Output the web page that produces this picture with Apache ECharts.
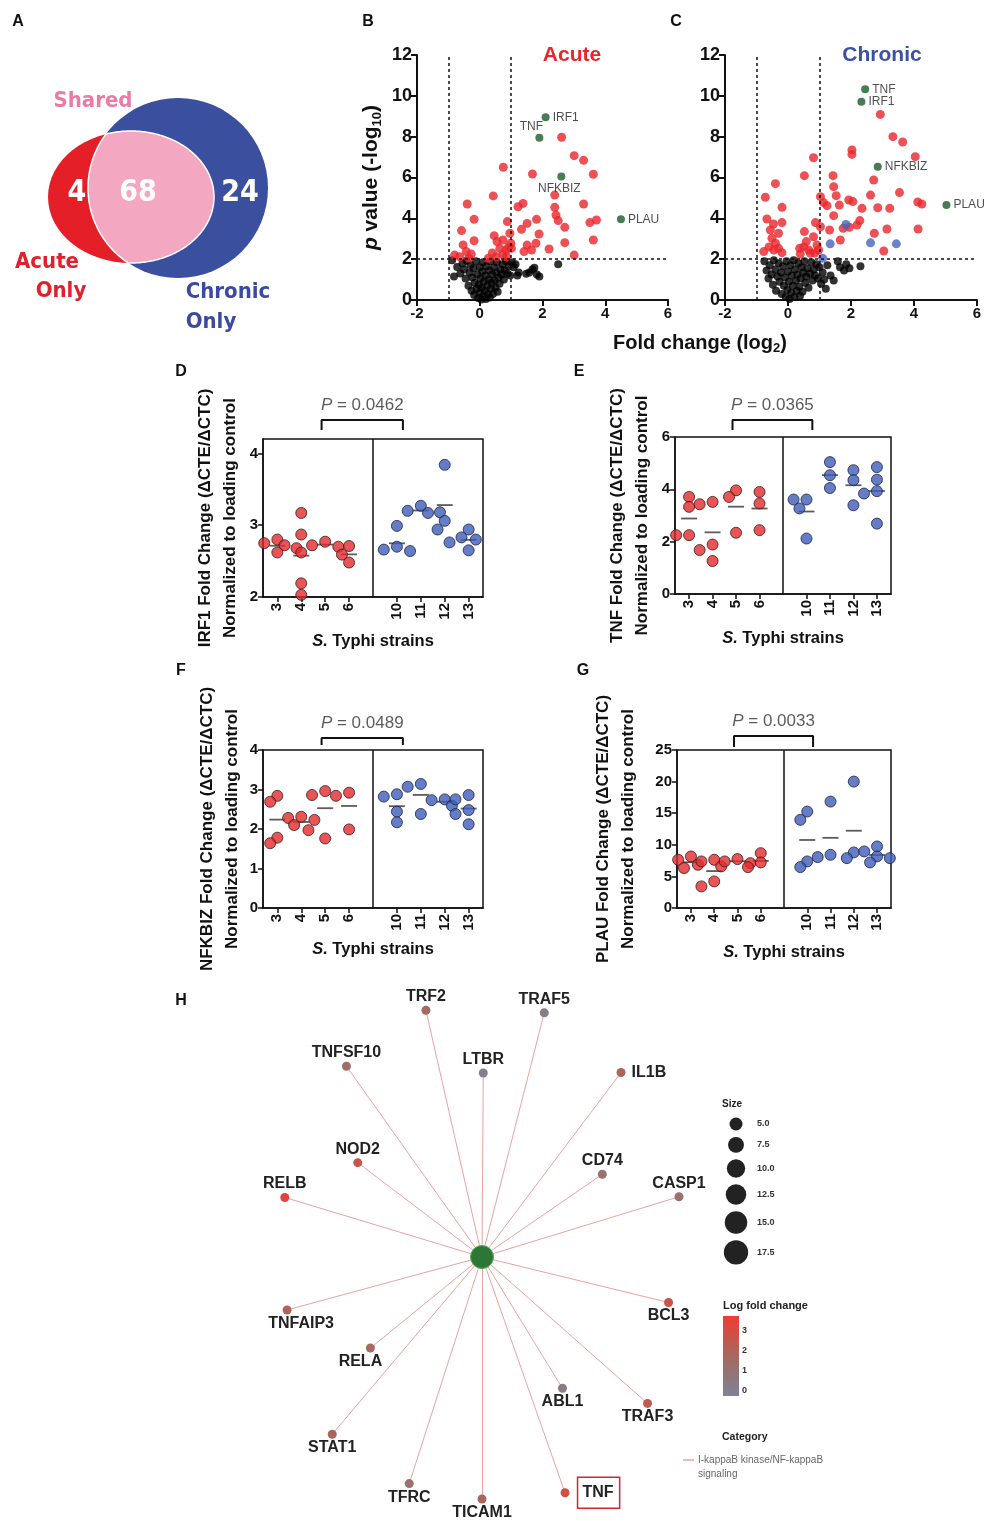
<!DOCTYPE html>
<html>
<head>
<meta charset="utf-8">
<title>S. Typhi figure</title>
<script src="https://cdn.jsdelivr.net/npm/echarts@6.0.0/dist/echarts.min.js"></script>
<style>
  html, body { margin: 0; padding: 0; background: #fff; }
  #chart { width: 994px; height: 1532px; }
</style>
</head>
<body>
<div id="chart"></div>
<script>
// ---------- A: Venn counts ----------
const vennCounts = [4, 68, 24]; // acute only, shared, chronic only

// ---------- B: acute volcano (log2 FC, -log10 p) ----------
const acuteNs = [
  [-0.88,1.95],[-0.82,1.15],[-0.72,1.62],[-0.62,1.3],[-0.55,1.8],[-0.5,1.5],[-0.45,1.05],[-0.42,1.92],
  [-0.36,0.7],[-0.32,1.35],[-0.3,1.72],[-0.26,0.45],[-0.24,1.1],[-0.2,1.55],[-0.18,0.25],[-0.16,0.85],
  [-0.12,1.9],[-0.1,0.55],[-0.08,1.25],[-0.05,0.1],[-0.03,0.75],[0,1.6],[0,0.35],[0.02,1.05],[0.05,0.02],
  [0.06,0.6],[0.08,1.4],[0.1,1.85],[0.12,0.2],[0.13,0.9],[0.16,0.45],[0.18,1.2],[0.2,0.05],[0.21,1.65],
  [0.24,0.7],[0.26,0.3],[0.28,1.0],[0.3,1.45],[0.32,0.12],[0.34,1.9],[0.36,0.55],[0.38,0.85],[0.4,1.25],
  [0.42,0.3],[0.45,1.6],[0.47,0.95],[0.5,0.6],[0.52,1.35],[0.55,1.85],[0.57,0.4],[0.6,1.1],[0.63,0.8],
  [0.66,1.5],[0.7,1.25],[0.73,1.75],[0.77,1.0],[0.8,1.45],[0.84,1.9],[0.88,1.3],[0.93,1.65],[0.97,1.2],
  [1.02,1.85],[1.08,1.6],[1.14,1.75],[1.2,1.2],[1.24,1.35],[1.48,1.28],[1.58,1.35],[1.68,1.5],[1.74,1.58],
  [1.82,1.25],[1.9,1.15],[2.5,1.75]
];
const acuteSig = [
  [0.75,6.5],[0.43,5.1],[-0.4,4.7],[-0.18,3.95],[-0.58,3.4],[-0.53,2.7],[-0.18,2.9],[-0.8,2.2],[-0.43,2.37],
  [-0.27,2.25],[-0.64,2.12],[-0.35,2.05],[0.46,3.15],[0.64,2.53],[0.55,2.86],[0.74,2.94],[0.88,3.84],[0.96,3.27],
  [0.99,2.78],[0.85,2.45],[1.01,2.53],[0.27,2.04],[0.4,2.3],[0.53,2.12],[0.74,2.25],[0.85,2.12],[0.92,2.6],
  [1.22,4.57],[1.38,4.73],[1.33,3.46],[1.51,3.75],[1.68,6.17],[1.81,3.95],[1.89,3.23],[1.79,2.78],[1.51,2.69],
  [1.41,2.37],[1.65,2.45],[2.21,2.5],[2.39,5.14],[2.39,4.54],[2.43,4.16],[2.5,3.89],[2.71,3.56],[2.71,2.81],
  [2.61,7.97],[3.01,7.07],[3.31,6.84],[3.31,4.7],[3.62,6.16],[3.51,3.79],[3.72,3.92],[3.62,2.94],[3.01,2.2]
];
const acuteGenes = ['IRF1', 'TNF', 'NFKBIZ', 'PLAU'];
const acuteGeneXY = [[2.1,8.95],[1.9,7.95],[2.6,6.05],[4.5,3.95]];

// ---------- C: chronic volcano ----------
const chronicNs = [
  [-0.75,1.9],[-0.68,1.45],[-0.62,1.05],[-0.58,1.7],[-0.52,1.25],[-0.48,0.75],[-0.45,1.95],[-0.4,1.5],[-0.38,0.45],
  [-0.33,1.15],[-0.3,1.8],[-0.27,0.9],[-0.22,1.35],[-0.2,0.3],[-0.16,1.65],[-0.13,0.7],[-0.1,1.1],[-0.07,0.15],
  [-0.05,1.9],[-0.02,0.5],[0,1.4],[0.03,0.9],[0.05,0.05],[0.08,1.7],[0.1,0.35],[0.12,1.2],[0.15,0.7],[0.18,1.95],
  [0.2,0.15],[0.22,1.5],[0.25,0.95],[0.28,0.45],[0.3,1.25],[0.33,1.8],[0.36,0.65],[0.38,0.2],[0.4,1.05],[0.43,1.6],
  [0.46,0.4],[0.48,1.35],[0.52,1.9],[0.55,0.85],[0.58,1.15],[0.62,1.55],[0.65,0.6],[0.7,1.3],[0.74,1.85],[0.78,0.95],
  [0.82,1.5],[0.86,1.2],[0.9,1.75],[0.95,1.05],[1.0,1.6],[1.05,0.8],[1.1,1.35],[1.15,1.0],[1.2,0.55],[1.25,1.7],
  [1.35,1.2],[1.45,0.95],[1.58,1.9],[1.65,1.6],[1.78,1.45],[1.85,1.75],[1.95,1.55],[2.3,1.65]
];
const chronicSig = [
  [0.81,6.97],[0.52,6.09],[-0.4,5.7],[-0.72,5.03],[-0.67,3.97],[-0.19,4.54],[-0.56,3.43],[-0.46,3.72],[-0.19,3.79],
  [-0.3,3.27],[-0.51,3.02],[-0.4,2.78],[-0.77,2.37],[-0.3,2.53],[-0.19,2.32],[-0.45,2.45],[-0.6,2.6],[0.52,3.35],
  [0.58,2.86],[0.37,2.53],[0.66,2.45],[0.92,2.69],[0.81,3.1],[0.87,3.79],[1.03,3.59],[0.97,2.45],[0.39,2.25],
  [0.71,2.29],[0.5,2.6],[0.85,2.3],[1.03,5.06],[1.13,4.77],[1.24,4.62],[1.43,6.09],[1.45,5.55],[1.53,5.11],
  [1.63,4.65],[1.45,4.13],[1.32,3.43],[1.66,2.94],[2.03,7.35],[2.03,7.13],[1.93,4.9],[2.06,4.82],[1.75,3.51],
  [1.95,3.56],[2.19,3.67],[2.28,3.89],[2.35,4.49],[2.62,5.14],[2.72,5.88],[2.85,4.52],[2.74,3.27],[3.14,3.48],
  [3.23,4.49],[3.54,5.26],[3.33,8.0],[3.64,7.74],[2.93,9.09],[4.04,7.02],[4.12,4.8],[4.25,4.7],[4.13,3.48],[3.04,2.4]
];
const chronicOnly = [[1.34,2.75],[1.84,3.7],[2.62,2.8],[3.44,2.75],[1.1,2.05]];
const chronicGenes = ['TNF', 'IRF1', 'NFKBIZ', 'PLAU'];
const chronicGeneXY = [[2.45,10.32],[2.33,9.71],[2.85,6.53],[5.03,4.65]];

// ---------- D-G: qPCR fold change per strain ----------
const strains = ['3', '4', '5', '6', '10', '11', '12', '13']; // 3-6 acute, 10-13 chronic
const irf1 = [[2.80,2.75,2.72,2.68,2.62],[3.17,2.87,2.62,2.19,2.03],[2.77,2.72,2.70],[2.71,2.59,2.48],
              [2.99,2.70,2.66,2.64],[3.27,3.20,3.17,3.18],[3.84,3.06,2.94],[2.94,2.83,2.80,2.76,2.65]];
const tnf = [[3.71,3.33,2.25,2.25],[3.52,3.43,1.89,1.68,1.26],[3.96,3.71,2.34],[3.9,3.46,2.44],
             [3.61,3.61,3.27,2.12],[5.04,4.54,4.05],[4.73,4.35,3.39],[4.85,4.37,3.93,3.84,2.69]];
const nfkbiz = [[2.84,2.69,1.78,1.64],[2.31,2.28,2.23,2.1,1.97],[2.96,2.86,1.76],[2.92,2.84,1.99],
                [2.88,2.82,2.44,2.17],[3.14,3.07,2.38],[2.75,2.73,2.59],[2.86,2.75,2.48,2.38,2.12]];
const plau = [[8.16,7.63,6.84,6.32],[7.63,7.37,6.58,4.21,3.42],[7.74,7.37,7.1],[8.68,7.21,6.47],
              [15.26,13.95,7.37,6.47],[16.84,8.42,8.05],[20.0,8.79,7.89],[9.74,8.95,8.16,7.89,7.21]];
const pValues = ['0.0462', '0.0365', '0.0489', '0.0033'];

// ---------- H: gene-concept network ----------
const netGenes = ['TRF2','TRAF5','TNFSF10','LTBR','IL1B','NOD2','CD74','RELB','CASP1',
                  'TNFAIP3','BCL3','RELA','ABL1','TRAF3','STAT1','TFRC','TICAM1','TNF'];
const netAngle = [102.8,75.7,125.4,89.6,53.0,142.8,34.5,163.2,17.0,195.2,346.3,219.2,301.5,318.5,229.8,252.2,270,289.4];
const netDist = [253,252,234,184,231,156,146,206,206,202,192,144,154,221,232,238,242,250];
const netLfc = [1.5,0.2,1.3,0.1,1.9,2.6,1.1,3.4,1.2,2.0,2.7,1.6,0.1,2.4,1.8,1.2,1.8,3.0];
const sizeLegend = [5.0, 7.5, 10.0, 12.5, 15.0, 17.5];
const lfcTicks = [0, 1, 2, 3];
const category = 'I-kappaB kinase/NF-kappaB signaling';

// ================================================================
const FONT = "'Liberation Sans', Arial, sans-serif";
const NARROW = "'Liberation Sans Narrow', 'DejaVu Sans Condensed', 'Liberation Sans', sans-serif";
const INK = '#111';
const RED = '#e8262b';
const BLUE = '#3b4fa6';
const LFC_COLORS = ['#7d8394', '#a5695f', '#f03c32'];
const LFC_RANGE = [-0.3, 3.75];

const chart = echarts.init(document.getElementById('chart'));
const grids = [], xAxes = [], yAxes = [], series = [], graphic = [];

function text(x, y, str, style) {
  graphic.push({
    type: 'text', x: x, y: y, silent: true, z: 10,
    style: Object.assign({
      text: str, fill: INK, fontFamily: FONT, fontSize: 15, fontWeight: 'bold',
      align: 'center', verticalAlign: 'middle'
    }, style || {})
  });
}

// panel letters
[['A', 18, 22], ['B', 368, 22], ['C', 676, 22], ['D', 181, 372], ['E', 579, 372],
 ['F', 181, 671], ['G', 583, 671], ['H', 181, 1001]].forEach(function (l) {
  text(l[1], l[2], l[0], { fontSize: 16 });
});

// ---------- A: Venn ----------
const ell = { cx: 131, cy: 197, rx: 83, ry: 66 };
const circ = { cx: 178, cy: 188, r: 90 };
graphic.push({ type: 'ellipse', silent: true, shape: ell, style: { fill: '#e41f27' } });
graphic.push({ type: 'circle', silent: true, shape: circ, style: { fill: '#3a4f9e' } });
const lens = [];
for (let a = 0; a < 360; a += 1) {
  const t = a * Math.PI / 180;
  const ex = ell.cx + ell.rx * Math.cos(t), ey = ell.cy + ell.ry * Math.sin(t);
  if (Math.hypot(ex - circ.cx, ey - circ.cy) <= circ.r) lens.push([ex, ey]);
  const qx = circ.cx + circ.r * Math.cos(t), qy = circ.cy + circ.r * Math.sin(t);
  if (Math.pow((qx - ell.cx) / ell.rx, 2) + Math.pow((qy - ell.cy) / ell.ry, 2) <= 1) lens.push([qx, qy]);
}
const lmx = lens.reduce((s, p) => s + p[0], 0) / lens.length;
const lmy = lens.reduce((s, p) => s + p[1], 0) / lens.length;
lens.sort((p, q) => Math.atan2(p[1] - lmy, p[0] - lmx) - Math.atan2(q[1] - lmy, q[0] - lmx));
graphic.push({ type: 'polygon', silent: true, shape: { points: lens },
  style: { fill: '#f4a7c1', stroke: '#fff', lineWidth: 1.5 } });
text(77, 193, String(vennCounts[0]), { fill: '#fff', fontSize: 30, fontFamily: NARROW });
text(138, 193, String(vennCounts[1]), { fill: '#fff', fontSize: 30, fontFamily: NARROW });
text(240, 193, String(vennCounts[2]), { fill: '#fff', fontSize: 30, fontFamily: NARROW });
text(93, 101, 'Shared', { fill: '#ea7ba3', fontSize: 22, fontFamily: NARROW });
text(47, 262, 'Acute', { fill: '#e0202a', fontSize: 22, fontFamily: NARROW });
text(61, 291, 'Only', { fill: '#e0202a', fontSize: 22, fontFamily: NARROW });
text(228, 292, 'Chronic', { fill: '#3b4aa0', fontSize: 22, fontFamily: NARROW });
text(211, 322, 'Only', { fill: '#3b4aa0', fontSize: 22, fontFamily: NARROW });

// ---------- B, C: volcano plots ----------
const axLine = { color: INK, width: 2 };
function volcano(gi, rect, ns, sig, only, genes, geneXY, labelPos, withName) {
  grids.push(Object.assign({ containLabel: false, outerBoundsMode: 'none' }, rect));
  xAxes.push({
    gridIndex: gi, type: 'value', min: -2, max: 6, interval: 2, splitLine: { show: false },
    axisLine: { show: true, onZero: false, lineStyle: axLine },
    axisTick: { show: true, length: 6, lineStyle: axLine },
    axisLabel: { fontSize: 15, fontWeight: 'bold', color: INK, margin: 6 }
  });
  yAxes.push({
    gridIndex: gi, type: 'value', min: 0, max: 12, interval: 2, splitLine: { show: false },
    axisLine: { show: true, onZero: false, lineStyle: axLine },
    axisTick: { show: true, length: 6, lineStyle: axLine },
    axisLabel: { fontSize: 18, fontWeight: 'bold', color: INK, margin: 5 },
    name: withName ? '{i|p} value (-log{s|10})' : '',
    nameLocation: 'middle', nameGap: 33,
    nameTextStyle: {
      fontSize: 21, fontWeight: 'bold', color: INK, lineHeight: 26,
      rich: {
        i: { fontStyle: 'italic', fontWeight: 'bold', fontSize: 21, color: INK, lineHeight: 26 },
        s: { fontSize: 13, fontWeight: 'bold', color: INK, lineHeight: 13, verticalAlign: 'bottom' }
      }
    }
  });
  series.push({
    type: 'scatter', xAxisIndex: gi, yAxisIndex: gi, data: ns, symbolSize: 8, silent: true,
    itemStyle: { color: '#000' },
    markLine: {
      silent: true, symbol: 'none', label: { show: false },
      lineStyle: { color: INK, type: [3, 3], width: 1.5 },
      data: [{ xAxis: -1 }, { xAxis: 1 }, { yAxis: 2 }]
    }
  });
  series.push({ type: 'scatter', xAxisIndex: gi, yAxisIndex: gi, data: sig, symbolSize: 9,
    silent: true, itemStyle: { color: RED } });
  if (only) {
    series.push({ type: 'scatter', xAxisIndex: gi, yAxisIndex: gi, data: only, symbolSize: 9,
      silent: true, itemStyle: { color: '#4a63bb' } });
  }
  series.push({
    type: 'scatter', xAxisIndex: gi, yAxisIndex: gi, symbolSize: 8, silent: true, z: 5,
    itemStyle: { color: '#1c5a29' },
    label: { show: true, formatter: '{b}', fontSize: 12, color: '#222', distance: 3 },
    data: genes.map(function (g, i) {
      return { name: g, value: geneXY[i], label: labelPos[i] };
    })
  });
}
volcano(0, { left: 417, top: 55, width: 251, height: 245 }, acuteNs, acuteSig, null,
  acuteGenes, acuteGeneXY,
  [{ position: 'right' }, { position: 'top', offset: [-8, 2] }, { position: 'bottom', offset: [-2, -1] }, { position: 'right' }],
  true);
volcano(1, { left: 725, top: 55, width: 252, height: 245 }, chronicNs, chronicSig, chronicOnly,
  chronicGenes, chronicGeneXY,
  [{ position: 'right' }, { position: 'right' }, { position: 'right' }, { position: 'right' }],
  false);
text(572, 55, 'Acute', { fill: RED, fontSize: 21 });
text(882, 55, 'Chronic', { fill: BLUE, fontSize: 21 });
text(700, 343, '{a|Fold change (log}{s|2}{a|)}', {
  rich: {
    a: { fontSize: 20, fontWeight: 'bold', fill: INK, fontFamily: FONT, lineHeight: 24 },
    s: { fontSize: 13, fontWeight: 'bold', fill: INK, fontFamily: FONT, lineHeight: 13, verticalAlign: 'bottom' }
  }
});

// ---------- D-G: dot plots ----------
const slotPos = strains.map(function (s, i) { return i < 4 ? i + 1 : i + 2; });
function swarm(vals, pxX, pxY, d) {
  const placed = [];
  const steps = [0, -0.3, 0.3, -0.55, 0.55, -0.8, 0.8];
  return vals.map(function (v) {
    let off = steps[steps.length - 1];
    for (const s of steps) {
      if (placed.every(p => Math.hypot((p[0] - s) * pxX, (p[1] - v) * pxY) >= d)) { off = s; break; }
    }
    placed.push([off, v]);
    return off;
  });
}
const dotPanels = [
  { gene: 'IRF1', vals: irf1, p: pValues[0], rect: { left: 263, top: 439, width: 220, height: 158 },
    min: 2, max: 4.2, ticks: [2, 3, 4], yGap: 20, xGap: 36, brTop: 19, brLeg: 9 },
  { gene: 'TNF', vals: tnf, p: pValues[1], rect: { left: 675, top: 437, width: 216, height: 157 },
    min: 0, max: 6, ticks: [0, 2, 4, 6], yGap: 20, xGap: 36, brTop: 17, brLeg: 7 },
  { gene: 'NFKBIZ', vals: nfkbiz, p: pValues[2], rect: { left: 263, top: 750, width: 220, height: 158 },
    min: 0, max: 4, ticks: [0, 1, 2, 3, 4], yGap: 18, xGap: 33, brTop: 12, brLeg: 5 },
  { gene: 'PLAU', vals: plau, p: pValues[3], rect: { left: 677, top: 750, width: 214, height: 158 },
    min: 0, max: 25, ticks: [0, 5, 10, 15, 20, 25], yGap: 36, xGap: 36, brTop: 14, brLeg: 3 }
];
const thin = { color: INK, width: 1.5 };
dotPanels.forEach(function (p, k) {
  const gi = 2 + k;
  grids.push(Object.assign({ containLabel: false, outerBoundsMode: 'none', show: true,
    borderColor: INK, borderWidth: 1.5, backgroundColor: 'transparent' }, p.rect));
  xAxes.push({
    gridIndex: gi, type: 'value', min: 0.4, max: 9.6, splitLine: { show: false },
    axisLine: { show: true, onZero: false, lineStyle: thin },
    axisTick: { show: true, customValues: slotPos, length: 5, lineStyle: thin },
    axisLabel: { customValues: slotPos, rotate: 90, margin: 6, fontSize: 15, fontWeight: 'bold', color: INK,
      formatter: function (v) { return strains[slotPos.indexOf(v)] || ''; } },
    name: '{i|S.} Typhi strains', nameLocation: 'middle', nameGap: p.xGap,
    nameTextStyle: { fontSize: 16.5, fontWeight: 'bold', color: INK,
      rich: { i: { fontStyle: 'italic', fontSize: 16.5, fontWeight: 'bold', color: INK } } }
  });
  yAxes.push({
    gridIndex: gi, type: 'value', min: p.min, max: p.max, splitLine: { show: false },
    axisLine: { show: true, onZero: false, lineStyle: thin },
    axisTick: { show: true, customValues: p.ticks, length: 5, lineStyle: thin },
    axisLabel: { customValues: p.ticks, fontSize: 15, fontWeight: 'bold', color: INK, margin: 5 },
    name: p.gene + ' Fold Change (\u0394CTE/\u0394CTC)\nNormalized to loading control',
    nameLocation: 'middle', nameGap: p.yGap,
    nameTextStyle: { fontSize: 17, fontWeight: 'bold', color: INK, lineHeight: 25 }
  });
  const pxX = p.rect.width / 9.2, pxY = p.rect.height / (p.max - p.min);
  const acutePts = [], chronicPts = [], means = [];
  p.vals.forEach(function (vals, i) {
    const offs = swarm(vals, pxX, pxY, 9);
    const target = i < 4 ? acutePts : chronicPts;
    vals.forEach(function (v, j) { target.push([slotPos[i] + offs[j], v]); });
    means.push([slotPos[i], vals.reduce((s, v) => s + v, 0) / vals.length]);
  });
  series.push({
    type: 'scatter', xAxisIndex: gi, yAxisIndex: gi, data: means, silent: true, z: 2,
    symbol: 'rect', symbolSize: [16, 1.8], itemStyle: { color: '#333' },
    markLine: { silent: true, symbol: 'none', label: { show: false },
      lineStyle: { color: INK, type: 'solid', width: 1.5 }, data: [{ xAxis: 5 }] }
  });
  series.push({ type: 'scatter', xAxisIndex: gi, yAxisIndex: gi, data: acutePts, silent: true, z: 3,
    symbolSize: 11, itemStyle: { color: '#e32b2d', borderColor: '#3a1c1c', borderWidth: 1 } });
  series.push({ type: 'scatter', xAxisIndex: gi, yAxisIndex: gi, data: chronicPts, silent: true, z: 3,
    symbolSize: 11, itemStyle: { color: '#3f5cb8', borderColor: '#1c2346', borderWidth: 1 } });
  // significance bracket between acute and chronic groups
  const yr = (p.max - p.min) / p.rect.height;
  const yTop = p.max + p.brTop * yr, yLeg = p.max + p.brLeg * yr;
  series.push({ type: 'line', xAxisIndex: gi, yAxisIndex: gi, clip: false, silent: true, symbol: 'none',
    lineStyle: { color: INK, width: 2 }, data: [[2.85, yLeg], [2.85, yTop], [6.25, yTop], [6.25, yLeg]] });
  series.push({ type: 'scatter', xAxisIndex: gi, yAxisIndex: gi, clip: false, silent: true,
    symbolSize: 1, itemStyle: { color: 'rgba(0,0,0,0)' }, data: [[4.55, yTop]],
    label: { show: true, position: 'top', distance: 6, formatter: '{i|P} = ' + p.p,
      fontSize: 17, color: '#333', rich: { i: { fontStyle: 'italic', fontSize: 17, color: '#333' } } } });
});

// ---------- H: network ----------
function lfcColor(v) {
  const t = Math.max(0, Math.min(1, (v - LFC_RANGE[0]) / (LFC_RANGE[1] - LFC_RANGE[0])));
  return echarts.color.lerp(t, LFC_COLORS);
}
const labelPlace = {
  IL1B: { position: 'right', distance: 6 },
  TNF: { position: 'right', distance: 8, borderColor: '#d3262c', borderWidth: 1.5, padding: [9, 6, 6, 5] },
  TNFAIP3: { position: 'bottom', offset: [14, 0] }, RELA: { position: 'bottom', offset: [-10, 0] },
  BCL3: { position: 'bottom' }, ABL1: { position: 'bottom' }, TRAF3: { position: 'bottom' },
  STAT1: { position: 'bottom' }, TFRC: { position: 'bottom' }, TICAM1: { position: 'bottom' }
};
const nodes = [{ name: category, value: [0, 0], symbolSize: 23, label: { show: false },
  itemStyle: { color: '#2b7735', borderColor: '#5fae62', borderWidth: 1 } }];
netGenes.forEach(function (g, i) {
  nodes.push({ name: g, value: [netDist[i], netAngle[i]],
    itemStyle: { color: lfcColor(netLfc[i]) },
    label: Object.assign({ position: 'top' }, labelPlace[g] || {}) });
});
series.push({
  type: 'graph', coordinateSystem: 'polar', polarIndex: 0, layout: 'none', silent: true,
  symbol: 'circle', symbolSize: 9, data: nodes,
  links: netGenes.map(g => ({ source: category, target: g })),
  lineStyle: { color: '#e9a39e', width: 1, opacity: 1, curveness: 0 },
  label: { show: true, fontSize: 16, fontWeight: 'bold', color: '#222', distance: 1 },
  emphasis: { disabled: true }
});

// legends for H
text(722, 1104, 'Size', { fontSize: 10, align: 'left', fill: '#222' });
let sy = 1124, prevR = 0;
sizeLegend.forEach(function (v, i) {
  const r = 2.9 * Math.sqrt(v);
  if (i > 0) sy += prevR + r + 6.5;
  graphic.push({ type: 'circle', silent: true, shape: { cx: 736, cy: sy, r: r }, style: { fill: '#222' } });
  text(757, sy, v.toFixed(1), { fontSize: 9, align: 'left', fill: '#333' });
  prevR = r;
});
const bar = { x: 723, top: 1316, w: 16, h: 80 };
graphic.push({ type: 'rect', silent: true, shape: { x: bar.x, y: bar.top, width: bar.w, height: bar.h },
  style: { fill: { type: 'linear', x: 0, y: 0, x2: 0, y2: 1,
    colorStops: [{ offset: 0, color: LFC_COLORS[2] }, { offset: 0.5, color: LFC_COLORS[1] },
                 { offset: 1, color: LFC_COLORS[0] }] } } });
text(723, 1306, 'Log fold change', { fontSize: 11, align: 'left', fill: '#222' });
lfcTicks.forEach(function (v) {
  const y = bar.top + (LFC_RANGE[1] - v) / (LFC_RANGE[1] - LFC_RANGE[0]) * bar.h;
  text(742, y, String(v), { fontSize: 9, align: 'left', fill: '#333' });
});
text(722, 1437, 'Category', { fontSize: 10.5, align: 'left', fill: '#222' });
graphic.push({ type: 'line', silent: true, shape: { x1: 683, y1: 1460, x2: 694, y2: 1460 },
  style: { stroke: '#e9a39e', lineWidth: 1.5 } });
text(698, 1460, 'I-kappaB kinase/NF-kappaB', { fontSize: 10, fontWeight: 'normal', align: 'left', fill: '#666' });
text(698, 1474, 'signaling', { fontSize: 10, fontWeight: 'normal', align: 'left', fill: '#666' });

chart.setOption({
  animation: false,
  backgroundColor: '#fff',
  textStyle: { fontFamily: FONT },
  grid: grids,
  xAxis: xAxes,
  yAxis: yAxes,
  polar: { center: [482, 1257], radius: 260 },
  angleAxis: { type: 'value', min: 0, max: 360, startAngle: 0, clockwise: false, show: false,
    axisLine: { show: false }, splitLine: { show: false }, axisLabel: { show: false }, axisTick: { show: false } },
  radiusAxis: { type: 'value', min: 0, max: 260, show: false,
    axisLine: { show: false }, splitLine: { show: false }, axisLabel: { show: false }, axisTick: { show: false } },
  series: series,
  graphic: graphic
});
</script>
</body>
</html>
